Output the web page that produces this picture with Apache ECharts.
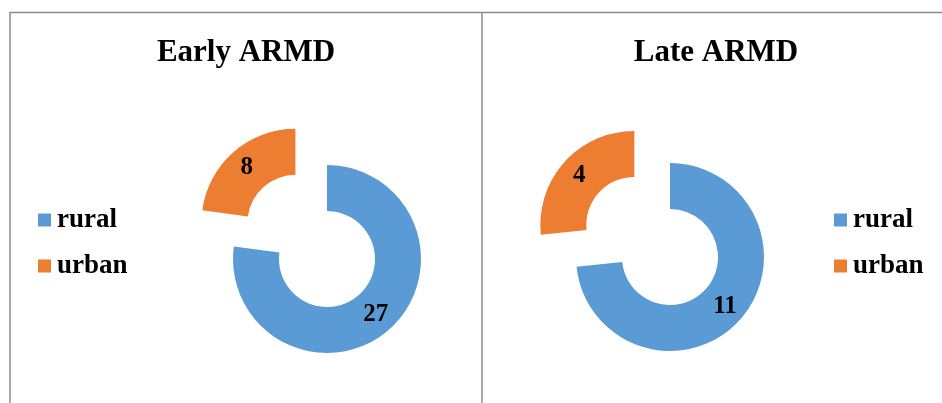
<!DOCTYPE html>
<html>
<head>
<meta charset="utf-8">
<script src="https://cdn.jsdelivr.net/npm/echarts@6/dist/echarts.min.js"></script>
<style>
  html, body { margin: 0; padding: 0; background: #fff; }
  #chart { width: 942px; height: 403px; }
</style>
</head>
<body>
<div id="chart"></div>
<script>
// data
const categories = ['rural', 'urban'];
const earlyValues = [27, 8];
const lateValues = [11, 4];
const panelTitles = ['Early ARMD', 'Late ARMD'];

const colors = ['#5B9BD5', '#ED7D31'];
const serif = '"Liberation Serif", "Times New Roman", serif';

function pieData(values) {
  return categories.map(function (name, i) {
    // the urban slice is pulled out of the ring
    return { name: name, value: values[i], selected: i === 1 };
  });
}

function donut(values, center) {
  return {
    type: 'pie',
    center: center,
    radius: [48, 94],
    startAngle: 90,
    clockwise: true,
    selectedMode: 'single',
    selectedOffset: 48,
    animation: false,
    silent: true,
    label: {
      show: true,
      position: 'inside',
      formatter: '{c}',
      color: '#000',
      fontFamily: serif,
      fontWeight: 'bold',
      fontSize: 25
    },
    labelLine: { show: false },
    emphasis: { disabled: true },
    data: pieData(values)
  };
}

function legend(left) {
  return {
    orient: 'vertical',
    left: left,
    top: 206,
    padding: 0,
    itemWidth: 13,
    itemHeight: 13,
    itemGap: 18,
    icon: 'rect',
    selectedMode: false,
    data: categories,
    textStyle: {
      color: '#000',
      fontFamily: serif,
      fontWeight: 'bold',
      fontSize: 27,
      lineHeight: 28,
      padding: [0, 0, 0, 1]
    }
  };
}

const chart = echarts.init(document.getElementById('chart'));

const titleStyle = { color: '#000', fontFamily: serif, fontWeight: 'bold', fontSize: 31 };

const option = {
  backgroundColor: '#fff',
  color: colors,
  title: [
    { text: panelTitles[0], left: 246, top: 37, padding: 0, textAlign: 'center', textStyle: titleStyle },
    { text: panelTitles[1], left: 716, top: 37, padding: 0, textAlign: 'center', textStyle: titleStyle }
  ],
  legend: [legend(38), legend(834)],
  series: [
    donut(earlyValues, [327, 259]),
    donut(lateValues, [670, 257])
  ],
  graphic: [
    { type: 'line', shape: { x1: 10, y1: 12.5, x2: 942, y2: 12.5 }, style: { stroke: '#8c8c8c', lineWidth: 1.5 }, silent: true },
    { type: 'line', shape: { x1: 10, y1: 12, x2: 10, y2: 403 }, style: { stroke: '#8c8c8c', lineWidth: 1.5 }, silent: true },
    { type: 'line', shape: { x1: 482, y1: 12, x2: 482, y2: 403 }, style: { stroke: '#8c8c8c', lineWidth: 1.5 }, silent: true }
  ]
};

chart.setOption(option);
</script>
</body>
</html>
